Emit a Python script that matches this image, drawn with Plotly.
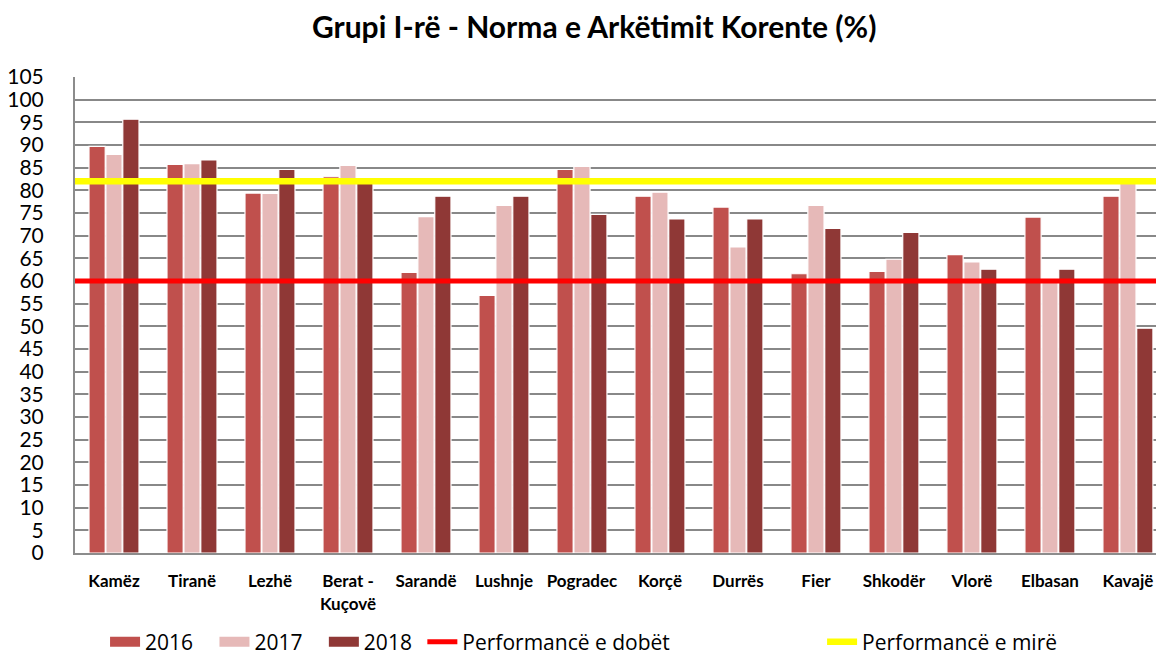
import plotly.graph_objects as go

categories = ["Kamëz", "Tiranë", "Lezhë", "Berat -<br>Kuçovë", "Sarandë", "Lushnje",
              "Pogradec", "Korçë", "Durrës", "Fier", "Shkodër", "Vlorë", "Elbasan", "Kavajë"]
v2016 = [89.7, 85.7, 79.4, 83.0, 61.9, 56.8, 84.6, 78.7, 76.3, 61.6, 62.1, 65.8, 74.1, 78.7]
v2017 = [87.9, 85.9, 79.3, 85.5, 74.2, 76.7, 85.3, 79.6, 67.5, 76.7, 64.8, 64.2, 60.5, 82.6]
v2018 = [95.7, 86.7, 84.6, 82.6, 78.7, 78.7, 74.7, 73.7, 73.7, 71.6, 70.7, 62.6, 62.6, 49.6]
weak_threshold = 60
good_threshold = 82
series_names = ["2016", "2017", "2018"]
line_names = ["Performancë e dobët", "Performancë e mirë"]
tick_values = list(range(0, 106, 5))

colors = ["#C0504D", "#E6B9B8", "#8F3836"]
NB = "\u00a0"
legend_pad = [3, 3, 1]

fig = go.Figure()
for name, vals, col in zip(series_names, [v2016, v2017, v2018], colors):
    fig.add_trace(go.Bar(
        x=categories, y=vals, name=name, showlegend=False, legendgroup=name,
        marker=dict(color=col, line=dict(color="white", width=1.2)),
    ))

# legend swatches (wide rectangles) for the bar series
for name, col, pad in zip(series_names, colors, legend_pad):
    fig.add_trace(go.Scatter(
        x=[None], y=[None], xaxis="x2", mode="lines", name=name + NB * pad, legendgroup=name,
        line=dict(color=col, width=14),
    ))

fig.add_trace(go.Scatter(
    x=[0, 1], y=[weak_threshold, weak_threshold], xaxis="x2", mode="lines",
    name=line_names[0] + NB * 27, line=dict(color="#FF0000", width=5),
))
fig.add_trace(go.Scatter(
    x=[0, 1], y=[good_threshold, good_threshold], xaxis="x2", mode="lines",
    name=line_names[1], line=dict(color="#FFFF00", width=6.5),
))

fig.update_layout(
    width=1156, height=659,
    margin=dict(l=75, r=0, t=77, b=106, autoexpand=False),
    paper_bgcolor="white", plot_bgcolor="white",
    barmode="group", bargap=0.35, bargroupgap=0.04,
    title=dict(
        text="<b>Grupi I-rë - Norma e Arkëtimit Korente (%)</b>",
        x=0.514, xanchor="center", xref="container",
        y=1 - 27 / 659, yanchor="middle", yref="container",
        font=dict(family="Lato, Open Sans, sans-serif", size=30, color="black"),
    ),
    xaxis=dict(
        type="category", range=[-0.5, 13.36],
        showgrid=False, showline=True, linecolor="#8C8C8C", linewidth=2,
        ticks="", ticklabelstandoff=12,
        tickfont=dict(family="Lato, sans-serif", size=17, color="black", weight="bold"),
    ),
    xaxis2=dict(overlaying="x", range=[0, 1], visible=False),
    yaxis=dict(
        range=[0, 105], tickvals=tick_values,
        showgrid=True, gridcolor="#888888", gridwidth=1.6,
        showline=True, linecolor="#8C8C8C", linewidth=2,
        tickfont=dict(family="Lato, sans-serif", size=21, color="black"),
        ticks="", ticklabelstandoff=25,
        zeroline=False,
    ),
    legend=dict(
        orientation="h", x=0.0278, xanchor="left",
        yref="container", y=1 - 642 / 659, yanchor="middle",
        font=dict(family="Open Sans, sans-serif", size=21, color="black"),
        tracegroupgap=0,
    ),
    showlegend=True,
)

fig.write_html(
    "out.html",
    config={"displayModeBar": False},
    post_script="document.body.style.margin='0px';document.body.style.overflow='hidden';",
)
